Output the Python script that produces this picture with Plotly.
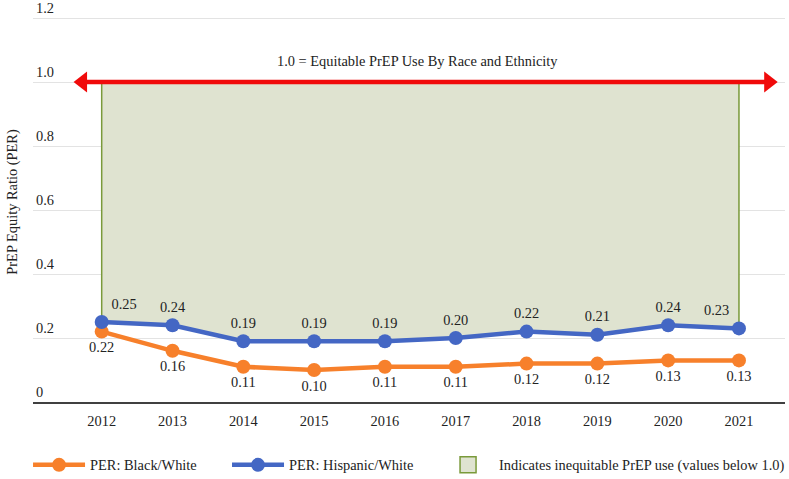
import plotly.graph_objects as go

years = [2012, 2013, 2014, 2015, 2016, 2017, 2018, 2019, 2020, 2021]
black_white = [0.22, 0.16, 0.11, 0.10, 0.11, 0.11, 0.12, 0.12, 0.13, 0.13]
hispanic_white = [0.25, 0.24, 0.19, 0.19, 0.19, 0.20, 0.22, 0.21, 0.24, 0.23]
equity_line = 1.0
y_ticks = [0, 0.2, 0.4, 0.6, 0.8, 1.0, 1.2]
y_tick_text = ["0", "0.2", "0.4", "0.6", "0.8", "1.0", "1.2"]

FONT = "Liberation Serif, Times New Roman, serif"
FS = 14.4
TXT = "#222"
ORANGE = "#f7802b"
BLUE = "#4467c4"
FILL = "#dfe3d0"
EDGE = "#7a9a3a"
RED = "#f00a0a"

fig = go.Figure()

# Shaded inequity region: between the Hispanic/White line and 1.0 (built from data)
pts = [(years[0], equity_line)] + list(zip(years, hispanic_white)) + [(years[-1], equity_line)]
path = "M" + " L".join(f"{x},{y}" for x, y in pts) + " Z"
fig.add_shape(
    type="path", path=path, xref="x", yref="y",
    fillcolor=FILL, line=dict(color=EDGE, width=1.5), layer="between",
)

# legend entry for the shaded region
fig.add_trace(go.Scatter(
    x=[None], y=[None], mode="markers",
    name="Indicates inequitable PrEP use (values below 1.0)",
    marker=dict(symbol="square", size=16, color=FILL, line=dict(color=EDGE, width=1.5)),
    legend="legend3", hoverinfo="skip",
))

# Red double arrow at 1.0
fig.add_trace(go.Scatter(
    x=[2011.73, 2021.42], y=[equity_line, equity_line],
    mode="lines+markers",
    line=dict(color=RED, width=4.5),
    marker=dict(symbol=["triangle-left", "triangle-right"], size=18, color=RED),
    showlegend=False, hoverinfo="skip",
))

fig.add_trace(go.Scatter(
    x=years, y=black_white,
    mode="lines+markers+text",
    name="PER: Black/White",
    line=dict(color=ORANGE, width=4.5),
    marker=dict(size=14, color=ORANGE),
    text=[f"{v:.2f}" for v in black_white],
    textposition="bottom center",
    textfont=dict(family=FONT, size=FS, color=TXT),
    legend="legend",
))

hisp_pos = ["top center"] * len(years)
hisp_pos[0] = "top right"
hisp_pos[-1] = "top left"
fig.add_trace(go.Scatter(
    x=years, y=hispanic_white,
    mode="lines+markers+text",
    name="PER: Hispanic/White",
    line=dict(color=BLUE, width=4.5),
    marker=dict(size=14, color=BLUE),
    text=[f"{v:.2f}" for v in hispanic_white],
    textposition=hisp_pos,
    textfont=dict(family=FONT, size=FS, color=TXT),
    legend="legend2",
))

fig.add_annotation(
    x=2016.465, y=1.035, xref="x", yref="y",
    text="1.0 = Equitable PrEP Use By Race and Ethnicity",
    showarrow=False, yanchor="bottom",
    font=dict(family=FONT, size=FS, color=TXT),
)

leg_common = dict(orientation="h", yanchor="middle", y=-0.1575, xanchor="left",
                  font=dict(family=FONT, size=FS, color=TXT), itemwidth=52,
                  bgcolor="rgba(0,0,0,0)")

fig.update_layout(
    width=789, height=479,
    margin=dict(l=33, r=4, t=2, b=77, autoexpand=False),
    paper_bgcolor="white", plot_bgcolor="white",
    font=dict(family=FONT, size=FS, color=TXT),
    showlegend=True,
    legend=dict(x=-0.0066, **leg_common),
    legend2=dict(x=0.258, **leg_common),
    legend3=dict(x=0.5373, **leg_common),
    xaxis=dict(
        range=[2011.03, 2021.65],
        tickmode="array", tickvals=years, ticktext=[str(y) for y in years],
        showgrid=False, zeroline=False,
        showline=True, linecolor="#404040", linewidth=2,
        ticks="", ticklabelstandoff=5,
        tickfont=dict(family=FONT, size=FS, color=TXT),
    ),
    yaxis=dict(
        range=[0, 1.25],
        tickmode="array", tickvals=y_ticks, ticktext=y_tick_text,
        ticklabelposition="inside top", ticklabeloverflow="allow",
        showgrid=True, gridcolor="#e3e3e3", gridwidth=1,
        zeroline=False, showline=False, ticks="",
        automargin=False,
        tickfont=dict(family=FONT, size=FS, color=TXT),
        title=dict(text="PrEP Equity Ratio (PER)", standoff=14,
                   font=dict(family=FONT, size=FS, color=TXT)),
    ),
)

fig.write_html("out.html", config={"displayModeBar": False},
               post_script="document.body.style.margin='0';")
